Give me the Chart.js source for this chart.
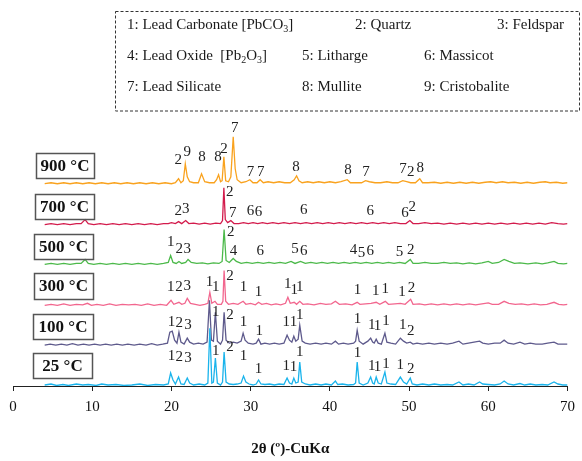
<!DOCTYPE html>
<html>
<head>
<meta charset="utf-8">
<script src="https://cdn.jsdelivr.net/npm/chart.js@4.4.1/dist/chart.umd.min.js"></script>
<style>
  html, body { margin: 0; padding: 0; background: #fff; }
</style>
</head>
<body>
<canvas id="xrd" width="582" height="461"></canvas>
<script>
// sample names (bottom to top)
const temps = ["25 °C", "100 °C", "300 °C", "500 °C", "700 °C", "900 °C"];

// phase key
const phases = [
  "Lead Carbonate [PbCO_3]", "Quartz", "Feldspar",
  "Lead Oxide  [Pb_2O_3]", "Litharge", "Massicot",
  "Lead Silicate", "Mullite", "Cristobalite"
];

// x axis ticks
const xTicks = [0, 10, 20, 30, 40, 50, 60, 70];

// patterns: [2theta, intensity]
const xrd25 = [[4,1],[4.8,2],[5.5,0.5],[6.3,1.5],[7,0.5],[8,2],[8.8,1],[9.5,1.5],[10.5,0.5],[11.2,2],[12,1],[13,1.5],[14,0.5],[15,1],[16,2],[17,0.5],[18,1.5],[19,1],[19.6,2],[19.9,13],[20.2,6],[20.5,2],[20.9,9],[21.2,2],[21.6,1.5],[22.0,8],[22.3,3],[22.8,1],[23.5,2],[24.2,1],[24.6,3],[24.85,58],[25.1,3],[25.3,4],[25.55,28],[25.8,3],[26.2,1],[26.45,4],[26.65,34],[26.9,4],[27.3,2],[27.8,1.5],[28.3,2],[28.8,3],[29.1,10],[29.4,4],[29.8,2],[30.3,1],[30.7,2],[31.0,6],[31.3,2],[31.8,1.5],[32.4,2],[33,1],[33.6,2],[34.2,1.5],[34.6,8],[34.9,3],[35.2,2],[35.45,8],[35.7,3],[36.0,4],[36.2,24],[36.45,4],[36.9,2],[37.5,1],[38.2,2],[38.9,1],[39.5,2],[40.2,1],[40.7,5],[41.0,1.5],[41.6,2],[42.3,1],[43,1.5],[43.25,3],[43.45,24],[43.7,3],[44.2,1],[44.8,3],[45.15,9],[45.4,3],[45.6,2],[45.85,9],[46.1,3],[46.5,2],[46.95,14],[47.2,3],[47.7,2],[48.3,1.5],[48.9,9],[49.3,4],[49.7,2],[50.15,8],[50.4,2],[51,1],[51.7,2],[52.5,1],[53.2,2],[54,1],[54.8,1.5],[55.5,1],[56.3,4],[56.8,1],[57.5,2],[58.2,1],[58.9,4],[59.3,2],[60,1.5],[60.8,1],[61.5,2],[62,5],[62.5,2],[63.2,1],[64,2.5],[64.6,1],[65.3,2],[66,1],[66.8,1.5],[67.5,1],[68.3,4],[68.8,2],[69.4,1],[70,1]];
const xrd100 = [[4,1],[4.7,2],[5.4,1],[6.1,2],[6.8,1],[7.5,2.5],[8.2,1],[8.9,2],[9.6,1],[10.3,2],[11,1],[11.7,2],[12.4,1],[13.1,2],[13.8,1],[14.5,2],[15.3,1],[16,2],[16.8,1],[17.5,2.5],[18.2,1],[18.9,2],[19.5,3],[19.8,14],[20.1,15],[20.4,6],[20.7,3],[20.95,14],[21.2,4],[21.6,2],[22.0,8],[22.3,4],[22.8,2],[23.4,3],[24,2],[24.5,4],[24.8,46],[25.05,6],[25.3,5],[25.55,34],[25.8,5],[26.2,2],[26.45,6],[26.65,34],[26.9,6],[27.3,3],[27.8,4],[28.3,3],[28.8,5],[29.05,13],[29.3,6],[29.7,3],[30.3,2],[30.7,3],[31.0,7],[31.3,2],[31.8,3],[32.4,2],[33,3],[33.6,2],[34.2,3],[34.6,11],[34.9,6],[35.2,4],[35.45,10],[35.7,5],[36.0,7],[36.2,21],[36.5,5],[36.9,3],[37.5,2],[38.2,3],[38.9,2],[39.5,3],[40.2,2],[40.7,5],[41.1,2],[41.7,3],[42.3,2],[43,3],[43.25,5],[43.45,16],[43.7,5],[44.2,2],[44.8,5],[45.15,8],[45.4,4],[45.6,3],[45.85,7],[46.1,3],[46.5,2],[46.95,13],[47.2,4],[47.7,3],[48.3,2],[48.9,8],[49.3,5],[49.7,3],[50.15,4],[50.5,2],[51,3],[51.7,2],[52.5,3],[53.2,2],[54,3],[54.8,2],[55.5,3],[56.3,5],[56.8,2],[57.5,3],[58.2,4],[58.9,5],[59.3,3],[60,2],[60.8,3],[61.5,3],[62,6],[62.5,3],[63.2,2],[64,4],[64.6,2],[65.3,3],[66,2],[66.8,2],[67.5,3],[68.3,4],[68.8,2],[69.4,2],[70,2]];
const xrd300 = [[4,1],[4.8,2],[5.6,1],[6.4,2.5],[7.2,1],[8,2],[8.8,1.5],[9.4,3],[9.9,1],[10.6,2],[11.4,1],[12.2,2.5],[13,1],[13.8,2],[14.6,1.5],[15.4,2],[16.2,1],[17,2.5],[17.8,1],[18.6,2],[19.4,1],[19.95,6],[20.3,2],[20.95,4],[21.3,2],[21.7,3],[22.0,8],[22.4,3],[23,2],[23.6,1],[24.2,2],[24.6,3],[24.85,14],[25.1,3],[25.5,5],[25.8,2],[26.3,2],[26.5,5],[26.65,36],[26.85,5],[27.2,2],[27.8,3],[28.4,2],[29.05,5],[29.4,2],[30,3],[30.6,1.5],[31.0,4],[31.4,2],[32,3],[32.6,1.5],[33.2,2.5],[33.8,1.5],[34.4,3],[34.7,9],[35,3],[35.5,4],[35.8,2],[36.2,5],[36.6,2],[37.2,2.5],[38,1.5],[38.8,3],[39.5,2],[40.2,2.5],[40.7,5],[41.2,2],[42,2.5],[42.8,1.5],[43.45,4],[43.8,2],[44.5,2.5],[45.2,3],[45.85,4],[46.3,2],[47,5],[47.4,2],[48.2,2.5],[48.9,3],[49.5,2],[50.2,7],[50.5,2],[51.3,2.5],[52,1.5],[52.8,2.5],[53.6,1.5],[54.4,2.5],[55.2,1.5],[56,2.5],[56.8,1.5],[57.6,2.5],[58.4,1.5],[59.2,2.5],[60,3.5],[60.5,2],[61.3,2],[62,5],[62.6,3],[63.4,2],[64.2,2.5],[65,1.5],[65.8,2.5],[66.6,1.5],[67.4,2],[68.3,4],[68.9,2],[69.5,1.5],[70,2]];
const xrd500 = [[4,1],[4.8,2],[5.6,1],[6.4,2],[7.2,1],[8,2],[8.6,2],[9.1,6],[9.5,2],[10.2,1],[11,2],[11.8,1],[12.6,2],[13.4,1],[14.2,2],[15,1],[15.8,2],[16.6,1],[17.4,2],[18.2,1],[19,2],[19.6,3],[19.9,10],[20.2,3],[20.6,2],[20.95,4],[21.3,2],[21.8,3],[22.1,6],[22.5,3],[23.2,2],[23.9,2.5],[24.6,1.5],[25.3,2.5],[26,2],[26.4,4],[26.65,36],[26.9,5],[27.3,3],[27.8,7],[28.2,4],[28.8,2],[29.5,3],[30.2,2],[30.9,3],[31.6,2],[32.3,3],[33,2],[33.7,3],[34.4,2],[35.1,4],[35.6,2],[36.3,4],[36.9,2],[37.6,3],[38.3,2],[39,3],[39.7,2],[40.4,3],[41.1,2],[41.8,3],[42.5,2],[43.2,3],[43.9,2],[44.6,3],[45.3,2],[46,3],[46.7,2],[47.4,3],[48.1,2],[48.8,3],[49.5,2],[50.15,6],[50.5,2],[51.2,2],[52,3],[52.8,2],[53.6,2],[54.4,3],[55.2,2],[56,2.5],[56.8,1.5],[57.6,2.5],[58.4,1.5],[59.2,2.5],[60,4],[60.5,2],[61.3,3],[62,6],[62.6,4],[63.3,2],[64,2.5],[65,1.5],[66,2.5],[66.8,1.5],[67.5,2.5],[68.3,4],[68.8,2],[69.5,1.5],[70,2]];
const xrd700 = [[4,1],[4.8,2],[5.6,1],[6.4,2],[7.2,1],[8,2],[8.6,2],[9.1,6],[9.5,2],[10.2,1],[11,2],[11.8,1],[12.6,2],[13.4,1],[14.2,2],[15,1],[15.8,2],[16.6,1],[17.4,2],[18.2,1],[19,2],[19.6,2],[20,3],[20.5,2],[20.9,4],[21.3,2],[21.8,5],[22.2,2],[22.8,2.5],[23.5,1.5],[24.2,2.5],[24.9,1.5],[25.6,2.5],[26.2,2],[26.45,5],[26.62,38],[26.8,6],[27.1,3],[27.5,5],[27.9,2],[28.5,2],[29.1,3],[29.7,2],[30.3,3],[30.9,2],[31.5,3],[32.1,2],[32.8,3],[33.5,2],[34.2,3],[34.9,2],[35.6,3],[36.3,2],[37,3],[37.7,2],[38.4,3],[39.1,2],[39.8,3],[40.5,2],[41.2,3],[41.9,2],[42.6,3],[43.3,2],[44,3],[44.7,2],[45.4,3],[46.1,2],[46.8,3],[47.5,2],[48.2,3],[48.9,2],[49.6,2],[50.1,5],[50.5,2],[51.2,2],[52,3],[52.8,2],[53.6,2.5],[54.4,1.5],[55.2,2.5],[56,1.5],[56.8,2.5],[57.6,1.5],[58.4,2.5],[59.2,1.5],[60,2.5],[60.8,1.5],[61.6,2.5],[62.4,1.5],[63.2,2.5],[64,1.5],[64.8,2.5],[65.6,1.5],[66.4,2.5],[67.2,1.5],[68,3],[68.8,2],[69.5,1.5],[70,2]];
const xrd900 = [[4,1],[4.8,2],[5.6,1],[6.4,2],[7.2,1],[8,2],[8.8,1],[9.6,2],[10.4,1],[11.2,2],[12,1],[12.8,2],[13.6,1],[14.4,2],[15.2,1],[16,2],[16.8,1],[17.6,2],[18.4,1],[19.2,2],[20,1],[20.5,2],[20.9,6],[21.2,2],[21.5,4],[21.75,21],[22.0,8],[22.3,3],[22.8,2],[23.4,2],[23.8,11],[24.2,3],[24.8,2],[25.4,2],[25.7,5],[25.95,10],[26.2,3],[26.4,4],[26.62,28],[26.85,4],[27.2,3],[27.5,8],[27.8,48],[28.05,16],[28.3,5],[28.8,2],[29.4,3],[29.9,5],[30.3,2],[30.8,2],[31.2,5],[31.6,2],[32.2,3],[32.9,2],[33.6,3],[34.3,2],[35,2],[35.5,5],[35.8,9],[36.1,4],[36.5,2],[37.2,3],[37.9,2],[38.6,3],[39.3,2],[40,3],[40.7,2],[41.4,3],[42.2,5],[42.6,2],[43.3,2],[44,2],[44.5,4],[45,3],[45.7,2],[46.4,2],[47.2,3],[47.9,2],[48.6,2],[49.2,4],[49.7,3],[50.2,2],[50.8,2],[51.35,6],[51.7,2],[52.4,2],[53.2,2.5],[54,1.5],[54.8,2.5],[55.6,1.5],[56.4,2.5],[57.2,1.5],[58,2.5],[58.8,1.5],[59.6,2.5],[60.3,3],[61,2],[61.8,3],[62.5,2],[63.3,2.5],[64.1,1.5],[64.9,2.5],[65.7,1.5],[66.5,2.5],[67.2,3],[67.8,2],[68.6,2.5],[69.4,1.5],[70,2]];

// peak markers: [2theta, phase no., height above the pattern's zero]
const peaks25 = [[20.0,"1",30],[21.0,"2",29],[22.1,"3",28],[25.6,"1",35],[27.4,"2",39],[29.1,"1",30],[31.0,"1",17],[34.5,"1",20],[35.4,"1",19],[36.2,"1",34],[43.5,"1",33],[45.3,"1",20],[46.0,"1",19],[47.1,"1",22],[48.9,"1",21],[50.2,"2",17]];
const peaks100 = [[20.0,"1",24],[21.0,"2",23],[22.1,"3",21],[25.6,"1",34],[27.4,"2",31],[29.1,"1",24],[31.1,"1",15],[34.5,"1",24],[35.4,"1",24],[36.2,"1",31],[43.5,"1",27],[45.3,"1",21],[46.0,"1",20],[47.1,"1",25],[49.2,"1",21],[50.2,"2",15]];
const peaks300 = [[19.9,"1",19],[20.95,"2",19],[22.0,"3",20],[24.8,"1",24],[25.6,"1",19],[27.4,"2",30],[29.1,"1",19],[31.0,"1",14],[34.7,"1",22],[35.5,"1",16],[36.2,"1",19],[43.5,"1",16],[45.8,"1",15],[47.0,"1",17],[49.1,"1",14],[50.3,"2",18]];
const peaks500 = [[19.9,"1",23],[21.0,"2",16],[22.0,"3",16],[27.5,"2",33],[27.85,"4",14],[31.2,"6",14],[35.6,"5",16],[36.7,"6",14],[43.0,"4",15],[44.0,"5",12],[45.1,"6",14],[48.8,"5",13],[50.2,"2",15]];
const peaks700 = [[20.86,"2",15],[21.8,"3",17],[27.35,"2",34],[27.73,"7",13],[29.98,"6",15],[31.0,"6",14],[36.7,"6",16],[45.1,"6",15],[49.5,"6",13],[50.4,"2",19]];
const peaks900 = [[20.86,"2",25],[22.0,"9",33],[23.87,"8",28],[25.88,"8",28],[26.63,"2",36],[27.98,"7",57],[29.98,"7",13],[31.28,"7",13],[35.72,"8",18],[42.28,"8",15],[44.57,"7",13],[49.22,"7",16],[50.22,"2",13],[51.4,"8",17]];

const patterns = [xrd25, xrd100, xrd300, xrd500, xrd700, xrd900];
const peaks = [peaks25, peaks100, peaks300, peaks500, peaks700, peaks900];

// stacking offsets and look
const offsets = [0, 40, 80, 121, 161, 202];
const colors = ["#1AB4EC", "#5E5A8C", "#F2668E", "#4CB94A", "#D31B4C", "#F9A21E"];
const boxes = [[33, 353, 59, 25], [33, 314, 60, 25], [34, 273, 59, 26], [34, 234, 59, 25], [35, 194, 59, 25], [36, 153, 58, 25]];
const legendPos = [[127, 25], [355, 25], [497, 25], [127, 56], [302, 56], [424, 56], [127, 87], [302, 87], [424, 87]];

const serif = '"Liberation Serif", "Times New Roman", serif';

function drawSub(ctx, txt, x, y) {
  var parts = txt.split(/_(\d)/);
  for (var k = 0; k < parts.length; k++) {
    if (k % 2) {
      ctx.font = "10px " + serif;
      ctx.fillText(parts[k], x, y + 4);
    } else {
      ctx.font = "15px " + serif;
      ctx.fillText(parts[k], x, y);
    }
    x += ctx.measureText(parts[k]).width;
  }
}

const annotate = {
  id: "annotate",
  afterDraw(chart) {
    var ctx = chart.ctx;
    var xs = chart.scales.x;
    var ys = chart.scales.y;
    ctx.save();

    ///////////////// legend box
    ctx.setLineDash([3, 2]);
    ctx.strokeStyle = "#333";
    ctx.lineWidth = 1;
    ctx.strokeRect(115.5, 11.5, 464, 99.5);
    ctx.setLineDash([]);
    ctx.fillStyle = "#1a1a1a";
    ctx.textBaseline = "middle";
    ctx.textAlign = "left";
    phases.forEach(function (p, i) {
      drawSub(ctx, i + 1 + ": " + p, legendPos[i][0], legendPos[i][1]);
    });

    ///////////////// temperature boxes
    ctx.lineWidth = 1.5;
    ctx.strokeStyle = "#555";
    ctx.textAlign = "center";
    ctx.font = "bold 17px " + serif;
    temps.forEach(function (t, i) {
      var b = boxes[i];
      ctx.strokeRect(b[0] + 0.5, b[1] + 0.5, b[2], b[3]);
      ctx.fillStyle = "#111";
      ctx.fillText(t, b[0] + b[2] / 2, b[1] + b[3] / 2 + 1);
    });

    ///////////////// peak numbers
    ctx.font = "15px " + serif;
    ctx.fillStyle = "#222";
    peaks.forEach(function (list, i) {
      list.forEach(function (p) {
        ctx.fillText(p[1], xs.getPixelForValue(p[0]), ys.getPixelForValue(offsets[i] + p[2]));
      });
    });
    ctx.restore();
  },
};

var datasets = patterns.map(function (pat, i) {
  return {
    label: temps[i],
    data: pat.map(function (p) { return { x: p[0], y: p[1] + offsets[i] }; }),
    borderColor: colors[i],
    borderWidth: 1.3,
    pointRadius: 0,
    tension: 0,
    fill: false,
  };
});

new Chart(document.getElementById("xrd"), {
  type: "line",
  data: { datasets: datasets },
  options: {
    responsive: false,
    animation: false,
    events: [],
    layout: { padding: { top: 110, left: 13, right: 11, bottom: 0 } },
    plugins: { legend: { display: false }, tooltip: { enabled: false } },
    scales: {
      x: {
        type: "linear",
        min: 0,
        max: 70,
        afterBuildTicks: function (axis) {
          axis.ticks = xTicks.map(function (v) { return { value: v }; });
        },
        grid: { display: true, drawOnChartArea: false, drawTicks: true, tickLength: 5, color: "#222" },
        border: { display: true, color: "#222", width: 1 },
        ticks: { padding: 7, color: "#111", font: { family: serif, size: 15 }, maxRotation: 0 },
        title: {
          display: true,
          text: "2θ (º)-CuKα",
          color: "#111",
          font: { family: serif, size: 15, weight: "bold" },
          padding: { top: 17, bottom: 3 },
        },
      },
      y: { display: false, min: 0, max: 277 },
    },
  },
  plugins: [annotate],
});
</script>
</body>
</html>
